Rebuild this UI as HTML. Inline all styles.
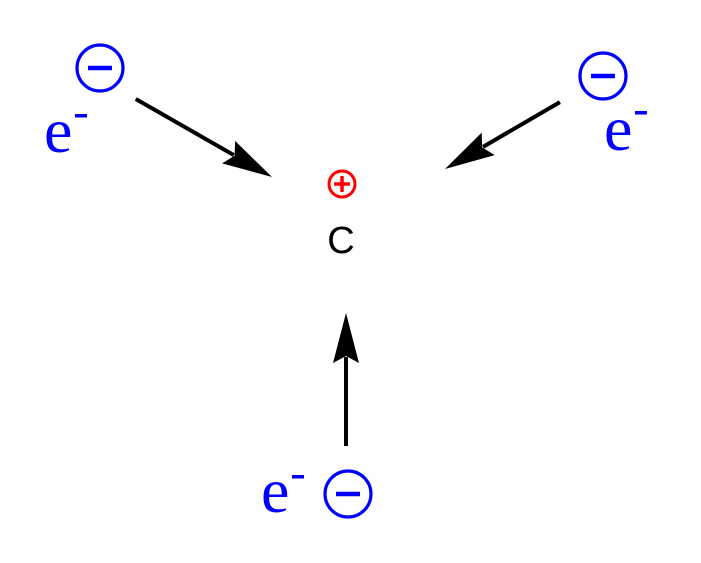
<!DOCTYPE html>
<html><head><meta charset="utf-8"><style>
html,body{margin:0;padding:0;background:#fff;width:701px;height:563px;overflow:hidden}
svg{display:block}
.e{font-family:"Liberation Serif",serif;font-size:64px;fill:#0000ff}
</style></head><body>
<svg width="701" height="563" viewBox="0 0 701 563" xmlns="http://www.w3.org/2000/svg">
<g fill="none" stroke="#0000ff" stroke-width="3.2">
<circle cx="100" cy="68" r="23"/><line x1="88" y1="68" x2="112" y2="68" stroke-width="4.5"/>
<circle cx="603" cy="76" r="23"/><line x1="591" y1="76" x2="615" y2="76" stroke-width="4.5"/>
<circle cx="348" cy="494" r="23"/><line x1="336" y1="494" x2="360" y2="494" stroke-width="4.5"/>
</g>
<text class="e" x="44" y="152">e</text><rect x="75" y="114" width="12" height="3.5" fill="#0000ff"/>
<text class="e" x="604" y="150">e</text><rect x="635" y="111" width="12" height="3.5" fill="#0000ff"/>
<text class="e" x="261" y="512">e</text><rect x="292" y="475" width="12" height="3.5" fill="#0000ff"/>
<g fill="none" stroke="#ff0000" stroke-width="3">
<circle cx="342" cy="184" r="13"/><line x1="334" y1="184" x2="350" y2="184" stroke-width="3.5"/><line x1="342" y1="176" x2="342" y2="192" stroke-width="3.5"/>
</g>
<text x="341" y="253" text-anchor="middle" font-family="Liberation Sans,sans-serif" font-size="38" fill="#000">C</text>
<g transform="translate(272,177) rotate(29.8)"><line x1="-157" y1="0" x2="-44" y2="0" stroke="#000" stroke-width="4"/><polygon points="0,0 -50,-13 -43,0 -50,13" fill="#000"/></g>
<g transform="translate(445,169) rotate(149.8)"><line x1="-133" y1="0" x2="-44" y2="0" stroke="#000" stroke-width="4"/><polygon points="0,0 -50,-13 -43,0 -50,13" fill="#000"/></g>
<g transform="translate(346,313) rotate(-90)"><line x1="-133" y1="0" x2="-44" y2="0" stroke="#000" stroke-width="4"/><polygon points="0,0 -50,-13 -43,0 -50,13" fill="#000"/></g>
</svg>
</body></html>
